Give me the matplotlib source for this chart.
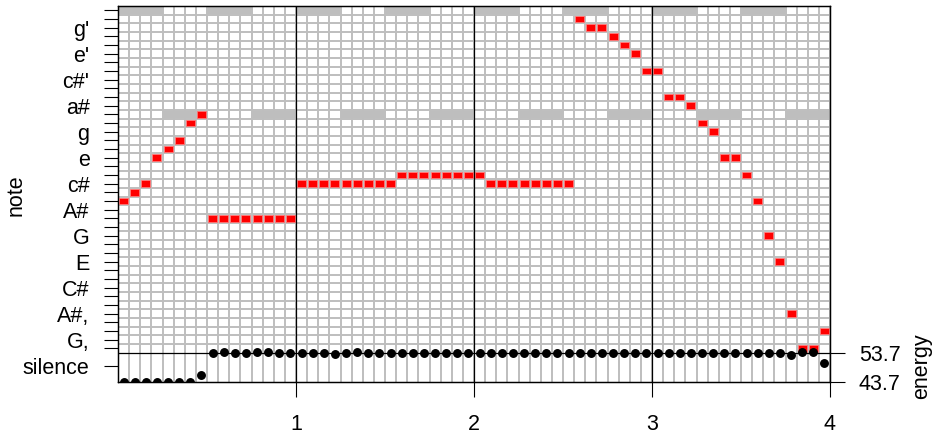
import numpy as np
import matplotlib
matplotlib.use('Agg')
import matplotlib.pyplot as plt

plt.rcParams['font.family'] = ['Liberation Sans', 'DejaVu Sans']

# === data ===
# observed note per frame, semitones above G, (16 frames per second, 4 s)
notes = [16, 17, 18, 21, 22, 23, 25, 26,
         14, 14, 14, 14, 14, 14, 14, 14,
         18, 18, 18, 18, 18, 18, 18, 18, 18,
         19, 19, 19, 19, 19, 19, 19, 19,
         18, 18, 18, 18, 18, 18, 18, 18,
         37, 36, 36, 35, 34, 33, 31, 31, 28, 28, 27, 25, 24,
         21, 21, 19, 16, 12, 9, 3, -1, -1, 1]

# expected notes, one per quarter second
expected_start = [0.0, 0.25, 0.5, 0.75, 1.0, 1.25, 1.5, 1.75,
                  2.0, 2.25, 2.5, 2.75, 3.0, 3.25, 3.5, 3.75]
expected_note = [38, 26, 38, 26, 38, 26, 38, 26,
                 38, 26, 38, 26, 38, 26, 38, 26]

# energy per frame
energy = [43.7, 43.7, 43.7, 43.7, 43.7, 43.7, 43.7, 46.3,
          53.7, 53.9, 53.5, 53.5, 53.9, 53.8, 53.5, 53.5,
          53.7, 53.7, 53.6, 53.4, 53.7, 53.8, 53.7, 53.6,
          53.6, 53.7, 53.7, 53.5, 53.7, 53.7, 53.7, 53.7,
          53.5, 53.5, 53.7, 53.6, 53.7, 53.6, 53.7, 53.7,
          53.6, 53.7, 53.6, 53.7, 53.7, 53.6, 53.6, 53.6,
          53.7, 53.6, 53.6, 53.7, 53.6, 53.6, 53.7, 53.6,
          53.6, 53.6, 53.6, 53.6, 52.9, 54.0, 54.0, 50.1]

note_ticks = [0, 3, 6, 9, 12, 15, 18, 21, 24, 27, 30, 33, 36]
note_labels = ['G,', 'A#,', 'C#', 'E', 'G', 'A#', 'c#', 'e', 'g', 'a#', "c#'", "e'", "g'"]
bars = [1, 2, 3]
energy_ticks = [43.7, 53.7]

fps = 16
n_frames = len(notes)
frame_x = (np.arange(n_frames) + 0.5) / fps
edges = np.arange(n_frames + 1) / fps

grey = '#BEBEBE'
fs = 15.5

fig = plt.figure(figsize=(9.41, 4.38), dpi=100)
ax = fig.add_axes([118 / 941, 1 - 382.2 / 438, 712 / 941, 376.2 / 438])
ylo, yhi = -4.9, 38.5
ax.set_xlim(0, 4)
ax.set_ylim(ylo, yhi)

# grid
ax.vlines(edges, ylo, yhi, color=grey, lw=1.4, zorder=1)
ax.hlines(np.arange(-0.5, 38, 1.0), 0, 4, color=grey, lw=1.4, zorder=1)

# expected and observed
ax.bar(expected_start, 0.78, width=0.25, bottom=np.array(expected_note) - 0.39,
       align='edge', color=grey, lw=0, zorder=2)
ax.bar(frame_x, 0.78, width=0.8 / fps, bottom=np.array(notes) - 0.39,
       color='red', edgecolor='#ff7777', lw=0.6, zorder=3)

# bar lines
ax.vlines(bars, ylo, yhi, color='black', lw=0.9, zorder=4)

ax.set_xticks([1, 2, 3, 4])
ax.set_xticklabels(['1', '2', '3', '4'], fontsize=fs)
ax.tick_params(axis='x', length=10.8, width=0.8, pad=12)

yt = [-3] + list(range(-1, 39))
yl = ['silence'] + ['' for _ in range(-1, 39)]
for t, lab in zip(note_ticks, note_labels):
    yl[yt.index(t)] = lab
ax.set_yticks(yt)
ax.set_yticklabels(yl, fontsize=fs)
ax.tick_params(axis='y', length=10, width=0.8, pad=10.5)

for s in ax.spines.values():
    s.set_linewidth(0.9)

# energy on right axis
ax2 = ax.twinx()
ax2.set_ylim(43.7, 43.7 + (yhi - ylo) / 3.4 * 10)
ax2.axhline(53.7, color='black', lw=0.9)
ax2.plot(frame_x, energy, 'o', color='black', ms=5.4)
ax2.set_yticks(energy_ticks)
ax2.set_yticklabels(['43.7', '53.7'], fontsize=fs)
ax2.tick_params(axis='y', length=10.8, width=0.8, pad=10)
for s in ax2.spines.values():
    s.set_linewidth(0.9)

fig.text(16 / 941, 1 - 195 / 438, 'note', rotation=90, ha='center', va='center', fontsize=fs)
fig.text(922 / 941, 1 - 366 / 438, 'energy', rotation=90, ha='center', va='center', fontsize=fs)

fig.savefig('out.png', dpi=100)
